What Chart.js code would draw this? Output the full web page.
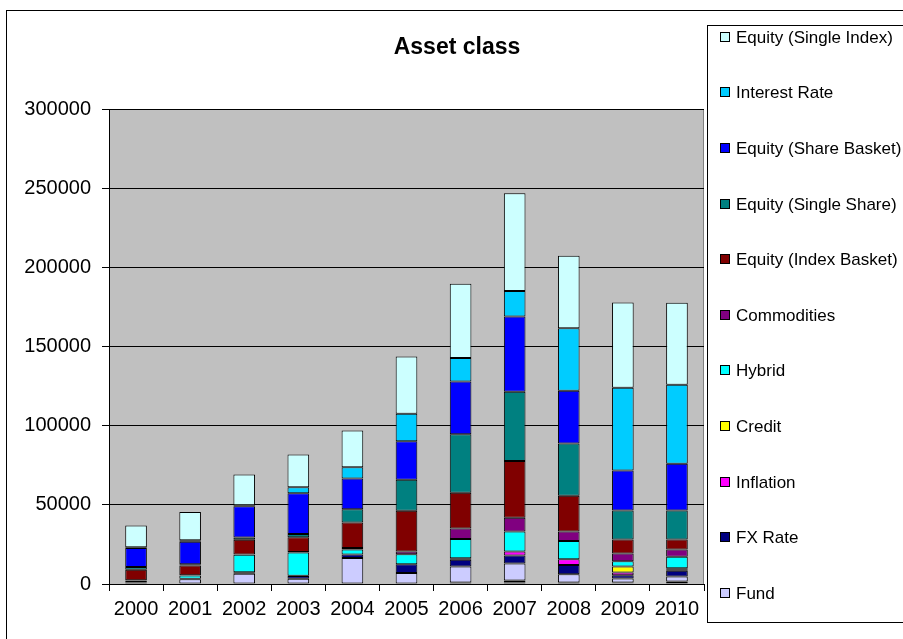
<!DOCTYPE html>
<html>
<head>
<meta charset="utf-8">
<title>Asset class</title>
<script src="https://cdn.jsdelivr.net/npm/chart.js@4.4.1/dist/chart.umd.min.js"></script>
<style>
  html, body { margin: 0; padding: 0; background: #fff; }
  #wrap { width: 903px; height: 639px; }
</style>
</head>
<body>
<div id="wrap"><canvas id="chart" width="903" height="639"></canvas></div>
<script>
var years = ['2000', '2001', '2002', '2003', '2004', '2005', '2006', '2007', '2008', '2009', '2010'];
var yTicks = [0, 50000, 100000, 150000, 200000, 250000, 300000];

// series, from the top of each column down
var equitySingleIndex = [13700, 17800, 19300, 20700, 23200, 36200, 47000, 61700, 45700, 53900, 51800];
var interestRate      = [500, 1000, 700, 3800, 7200, 17300, 14800, 16200, 39600, 52200, 50000];
var equityShareBasket = [12000, 14300, 19800, 25700, 19400, 24400, 33300, 47400, 33300, 25300, 29500];
var equitySingleShare = [1700, 700, 1300, 2100, 8400, 19600, 36900, 43800, 33000, 18300, 18300];
var equityIndexBasket = [6700, 6100, 9300, 9300, 16000, 25700, 22600, 35800, 22600, 8800, 6300];
var commodities       = [200, 200, 300, 300, 1000, 1700, 6700, 8800, 5900, 4900, 4600];
var hybrid            = [800, 2100, 10900, 14700, 3200, 6300, 12200, 12600, 11600, 3400, 7200];
var credit            = [0, 0, 0, 0, 0, 0, 0, 0, 0, 3800, 1000];
var inflation         = [0, 0, 0, 200, 0, 0, 900, 2500, 3600, 1700, 600];
var fxRate            = [300, 300, 1000, 1700, 2100, 5500, 4300, 5100, 5900, 2100, 3600];
var fund              = [1000, 3000, 6500, 3300, 16500, 7000, 10000, 10700, 5200, 2500, 3200];
// small series under Fund that have no legend entry
var otherA            = [0, 0, 0, 0, 0, 0, 0, 0, 0, 0, 1600];
var otherB            = [0, 0, 0, 0, 0, 0, 0, 1000, 900, 500, 0];
var otherC            = [0, 0, 0, 0, 0, 0, 1000, 1200, 0, 400, 0];

function series(label, data, color, noLegend) {
    return {
        label: label,
        data: data,
        backgroundColor: color,
        borderColor: '#000000',
        borderWidth: 1,
        borderSkipped: false,
        barPercentage: 0.4,
        categoryPercentage: 1.0,
        noLegend: !!noLegend
    };
}

// first dataset sits at the bottom of the stack
var datasets = [
    series('Other A', otherA, '#CCFFFF', true),
    series('Other B', otherB, '#FF8080', true),
    series('Other C', otherC, '#0066CC', true),
    series('Fund', fund, '#CCCCFF'),
    series('FX Rate', fxRate, '#000080'),
    series('Inflation', inflation, '#FF00FF'),
    series('Credit', credit, '#FFFF00'),
    series('Hybrid', hybrid, '#00FFFF'),
    series('Commodities', commodities, '#800080'),
    series('Equity (Index Basket)', equityIndexBasket, '#800000'),
    series('Equity (Single Share)', equitySingleShare, '#008080'),
    series('Equity (Share Basket)', equityShareBasket, '#0000FF'),
    series('Interest Rate', interestRate, '#00CCFF'),
    series('Equity (Single Index)', equitySingleIndex, '#CCFFFF')
];

var FONT = "'Liberation Sans', Arial, sans-serif";
Chart.defaults.font.family = FONT;
Chart.defaults.color = '#000';

// gray plot background, outer frame, title and the boxed legend
var decor = {
    id: 'decor',
    beforeDraw: function (chart) {
        var c = chart.ctx, a = chart.chartArea;
        c.save();
        c.fillStyle = '#fff';
        c.fillRect(0, 0, chart.width, chart.height);
        c.strokeStyle = '#000';
        c.lineWidth = 1;
        c.strokeRect(6.5, 10.5, 920, 640);
        c.fillStyle = '#C0C0C0';
        c.fillRect(a.left, a.top, a.right - a.left, a.bottom - a.top);
        c.strokeStyle = '#808080';
        c.strokeRect(a.left + 0.5, a.top + 0.5, a.right - a.left - 1, a.bottom - a.top);
        c.restore();
    },
    afterDraw: function (chart) {
        var c = chart.ctx;
        c.save();
        c.fillStyle = '#000';
        c.font = 'bold 23px ' + FONT;
        c.textAlign = 'center';
        c.textBaseline = 'middle';
        c.fillText('Asset class', 457, 48);

        c.fillStyle = '#fff';
        c.fillRect(707.5, 25.5, 220, 597);
        c.strokeStyle = '#000';
        c.lineWidth = 1;
        c.strokeRect(707.5, 25.5, 220, 597);

        var items = chart.data.datasets.filter(function (d) { return !d.noLegend; }).reverse();
        c.font = '17px ' + FONT;
        c.textAlign = 'left';
        items.forEach(function (d, i) {
            var y = Math.round(36.7 + i * 55.6);
            c.fillStyle = d.backgroundColor;
            c.fillRect(720.5, y - 4.5, 9, 9);
            c.strokeStyle = '#000';
            c.strokeRect(720.5, y - 4.5, 9, 9);
            c.fillStyle = '#000';
            c.fillText(d.label, 736, y + 1);
        });
        c.restore();
    }
};

var ctx = document.getElementById('chart').getContext('2d');
var chart = new Chart(ctx, {
    type: 'bar',
    data: { labels: years, datasets: datasets },
    options: {
        responsive: false,
        animation: false,
        layout: { padding: { left: 0, top: 109, right: 199, bottom: 0 } },
        plugins: {
            legend: { display: false },
            title: { display: false },
            tooltip: { enabled: false }
        },
        scales: {
            x: {
                stacked: true,
                offset: true,
                grid: { offset: true, drawOnChartArea: false, color: '#000', tickLength: 7 },
                border: { color: '#000' },
                ticks: { font: { size: 20 }, padding: 6, maxRotation: 0, autoSkip: false },
                afterFit: function (s) { s.height = 55; }
            },
            y: {
                stacked: true,
                min: 0,
                max: 300000,
                afterBuildTicks: function (s) {
                    s.ticks = yTicks.map(function (v) { return { value: v }; });
                },
                grid: { color: '#000', tickLength: 7 },
                border: { color: '#000' },
                ticks: {
                    font: { size: 20 },
                    padding: 11,
                    callback: function (v) { return String(v); }
                },
                afterFit: function (s) { s.width = 109; }
            }
        }
    },
    plugins: [decor]
});
</script>
</body>
</html>
